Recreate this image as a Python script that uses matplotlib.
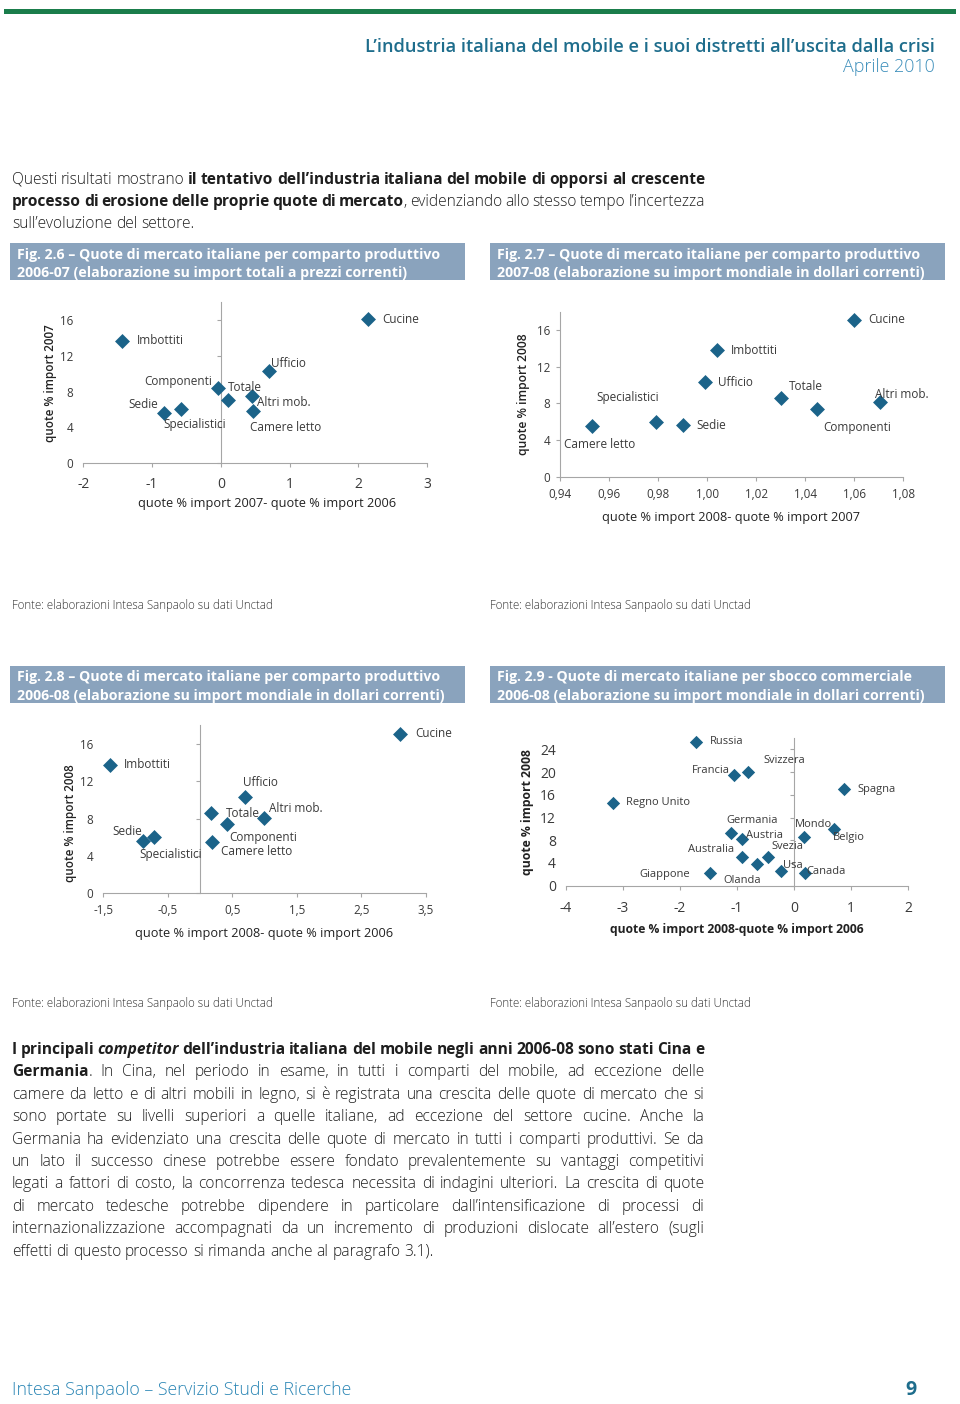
import matplotlib.pyplot as plt
from matplotlib import font_manager
from matplotlib.patches import Rectangle


def ha_grassetto(fam):
    for f in font_manager.fontManager.ttflist:
        if f.name != fam:
            continue
        w = f.weight
        if isinstance(w, str):
            w = font_manager.weight_dict.get(w, 400)
        if w >= 600:
            return True
    return False


FAM = next((f for f in ['Open Sans', 'Lato', 'Noto Sans', 'Roboto', 'DejaVu Sans']
            if ha_grassetto(f)), 'DejaVu Sans')
plt.rcParams['font.family'] = [FAM, 'DejaVu Sans']

W, H = 960, 1404
BLU = '#1b6389'
GRIGIO = '#a6a6a6'
TESTO = '#3a3a3a'

# --- dati Fig. 2.6 / 2.7 / 2.8 (comparti) ---
comparti = ['Cucine', 'Imbottiti', 'Ufficio', 'Componenti', 'Totale',
            'Altri mob.', 'Camere letto', 'Sedie', 'Specialistici']
diff_07_06 = [2.14, -1.43, 0.70, -0.04, 0.11, 0.46, 0.47, -0.82, -0.58]
quota_2007 = [16.1, 13.7, 10.3, 8.4, 7.1, 7.55, 5.85, 5.65, 6.05]
diff_08_07 = [1.060, 1.004, 0.999, 1.045, 1.030, 1.0705, 0.953, 0.990, 0.979]
quota_2008 = [17.1, 13.8, 10.3, 7.4, 8.6, 8.1, 5.5, 5.6, 6.0]
diff_08_06 = [3.10, -1.40, 0.70, 0.41, 0.17, 0.99, 0.19, -0.89, -0.71]

# --- dati Fig. 2.9 (paesi) ---
paesi = ['Russia', 'Francia', 'Svizzera', 'Spagna', 'Regno Unito', 'Germania',
         'Mondo', 'Belgio', 'Austria', 'Australia', 'Svezia', 'Olanda',
         'Usa', 'Canada', 'Giappone']
diff_paesi = [-1.72, -1.05, -0.81, 0.87, -3.18, -1.10, 0.17, 0.70, -0.92,
              -0.92, -0.45, -0.655, -0.23, 0.19, -1.47]
quota_paesi = [25.35, 19.4, 20.1, 17.0, 14.6, 9.2, 8.63, 9.98, 8.16,
               5.1, 5.1, 3.76, 2.64, 2.29, 2.29]

# tick
xt_26 = [-2, -1, 0, 1, 2, 3]
xtl_26 = ['-2', '-1', '0', '1', '2', '3']
xt_27 = [0.94, 0.96, 0.98, 1.00, 1.02, 1.04, 1.06, 1.08]
xtl_27 = ['0,94', '0,96', '0,98', '1,00', '1,02', '1,04', '1,06', '1,08']
xt_28 = [-1.5, -0.5, 0.5, 1.5, 2.5, 3.5]
xtl_28 = ['-1,5', '-0,5', '0,5', '1,5', '2,5', '3,5']
xt_29 = [-4, -3, -2, -1, 0, 1, 2]
xtl_29 = ['-4', '-3', '-2', '-1', '0', '1', '2']
yt = [0, 4, 8, 12, 16]
yt_29 = [0, 4, 8, 12, 16, 20, 24]

# posizione etichette (pixel: dx, dy verso l'alto, allineamento)
off_26 = [(14, 0, 'left'), (14, 0, 'left'), (2, 8, 'left'), (-6, 7, 'right'),
          (0, 12, 'left'), (5, -7, 'left'), (-3, -17, 'left'), (-6, 8, 'right'),
          (-18, -15, 'left')]
off_27 = [(14, 0, 'left'), (14, 0, 'left'), (13, 0, 'left'), (6, -19, 'left'),
          (8, 11, 'left'), (-5, 8, 'left'), (-28, -18, 'left'), (14, 0, 'left'),
          (3, 24, 'right')]
off_28 = [(15, 0, 'left'), (14, 0, 'left'), (-2, 15, 'left'), (3, -13, 'left'),
          (15, 0, 'left'), (5, 9, 'left'), (9, -10, 'left'), (-1, 10, 'right'),
          (-15, -17, 'left')]
off_29 = [(14, 0, 'left'), (-4, 5, 'right'), (16, 11, 'left'), (14, 0, 'left'),
          (13, 0, 'left'), (-5, 13, 'left'), (-9, 12, 'left'), (-1, -8, 'left'),
          (4, 4, 'left'), (-7, 7, 'right'), (3, 10, 'left'), (-33, -16, 'left'),
          (2, 5, 'left'), (1, 1, 'left'), (-20, -2, 'right')]

fig = plt.figure(figsize=(W / 100, H / 100), dpi=100)
fig.patch.set_facecolor('white')
ov = fig.add_axes([0, 0, 1, 1])
ov.set_xlim(0, W)
ov.set_ylim(H, 0)
ov.axis('off')
renderer = fig.canvas.get_renderer()


def larghezza(t):
    return t.get_window_extent(renderer).width


def testo_fit(x, y, s, w, **kw):
    rot = kw.pop('rotation', 0)
    t = ov.text(x, y, s, fontsize=10, **kw)
    t.set_fontsize(10 * w / larghezza(t))
    t.set_rotation(rot)
    return t


STILI = {'n': dict(weight='light'),
         'b': dict(weight='bold'),
         'bi': dict(weight='bold', style='italic')}


def misura(s, size, st):
    t = ov.text(0, 0, s, fontsize=size, **STILI[st])
    w = larghezza(t)
    t.remove()
    return w


def parole(segs):
    out = []
    nuova = True
    for txt, st in segs:
        for i, p in enumerate(txt.split(' ')):
            if i > 0:
                nuova = True
            if p == '':
                continue
            if nuova or not out:
                out.append([(p, st)])
            else:
                out[-1].append((p, st))
            nuova = False
    return out


def riga(segs, y, size, giustifica, x0=12, x1=705):
    ws = parole(segs)
    larg = [[misura(p, size, st) for p, st in w] for w in ws]
    tot = sum(sum(l) for l in larg)
    spazio = misura('n n', size, 'n') - misura('nn', size, 'n')
    gap = (x1 - x0 - tot) / (len(ws) - 1) if giustifica and len(ws) > 1 else spazio
    x = x0
    for w, l in zip(ws, larg):
        for (p, st), pl in zip(w, l):
            ov.text(x, y, p, fontsize=size, va='baseline', ha='left',
                    color='#1e1e1e', **STILI[st])
            x += pl
        x += gap


def pannello(box, xs, ys, nomi, offs, xlim, ylim, xt, xtl, ytk, vline,
             s, fs_lab, fs_x, fs_y, pad_x):
    l, r, b, t = box
    ax = fig.add_axes([l / W, 1 - b / H, (r - l) / W, (b - t) / H])
    ax.patch.set_visible(False)
    ax.set_xlim(*xlim)
    ax.set_ylim(*ylim)
    ax.scatter(xs, ys, marker='D', s=s, color=BLU, linewidths=0, zorder=3,
               clip_on=False)
    for x, y, n, (dx, dy, ha) in zip(xs, ys, nomi, offs):
        ax.annotate(n, (x, y), xytext=(dx, dy), textcoords='offset pixels',
                    ha=ha, va='center', fontsize=fs_lab, color=TESTO,
                    annotation_clip=False, zorder=4)
    for sp in ('top', 'right'):
        ax.spines[sp].set_visible(False)
    for sp in ('left', 'bottom'):
        ax.spines[sp].set_color(GRIGIO)
        ax.spines[sp].set_linewidth(0.8)
    ax.set_xticks(xt, xtl)
    ax.tick_params(axis='x', direction='out', length=3, width=0.8, color=GRIGIO,
                   labelsize=fs_x, labelcolor=TESTO, pad=pad_x)
    ax.set_yticks(ytk)
    if vline is None:
        ax.tick_params(axis='y', direction='out', length=3, width=0.8,
                       color=GRIGIO, labelsize=fs_y, labelcolor=TESTO, pad=4)
    else:
        ax.spines['left'].set_position(('data', vline))
        ax.tick_params(axis='y', direction='out', length=3, width=0.8,
                       color=GRIGIO, labelleft=False)
        sec = ax.secondary_yaxis('left')
        sec.set_yticks(ytk)
        sec.spines['left'].set_visible(False)
        sec.tick_params(length=0, labelsize=fs_y, labelcolor=TESTO, pad=7)
    return ax


# --- intestazione ---
ov.add_patch(Rectangle((4, 9), 952, 4.5, color='#1a7d4b', lw=0))
testo_fit(935, 51.5, 'L’industria italiana del mobile e i suoi distretti all’uscita dalla crisi',
          570, ha='right', va='baseline', color='#1e6d8c', weight='semibold')
testo_fit(935, 72.5, 'Aprile 2010', 92, ha='right', va='baseline',
          color='#3a8dba', weight='light')

# --- testo ---
ultima = 'effetti di questo processo si rimanda anche al paragrafo 3.1).'
par1 = [
    [('Questi risultati mostrano ', 'n'),
     ('il tentativo dell’industria italiana del mobile di opporsi al crescente', 'b')],
    [('processo di erosione delle proprie quote di mercato', 'b'),
     (', evidenziando allo stesso tempo l’incertezza', 'n')],
    [('sull’evoluzione del settore.', 'n')],
]
par2 = [
    [('I principali ', 'b'), ('competitor', 'bi'),
     (' dell’industria italiana del mobile negli anni 2006-08 sono stati Cina e', 'b')],
    [('Germania', 'b'),
     ('. In Cina, nel periodo in esame, in tutti i comparti del mobile, ad eccezione delle', 'n')],
    [('camere da letto e di altri mobili in legno, si è registrata una crescita delle quote di mercato che si', 'n')],
    [('sono portate su livelli superiori a quelle italiane, ad eccezione del settore cucine. Anche la', 'n')],
    [('Germania ha evidenziato una crescita delle quote di mercato in tutti i comparti produttivi. Se da', 'n')],
    [('un lato il successo cinese potrebbe essere fondato prevalentemente su vantaggi competitivi', 'n')],
    [('legati a fattori di costo, la concorrenza tedesca necessita di indagini ulteriori. La crescita di quote', 'n')],
    [('di mercato tedesche potrebbe dipendere in particolare dall’intensificazione di processi di', 'n')],
    [('internazionalizzazione accompagnati da un incremento di produzioni dislocate all’estero (sugli', 'n')],
    [(ultima, 'n')],
]
size = 10 * 436 / misura(ultima, 10, 'n')
for segs in par1[:2] + par2[:-1]:
    ws = parole(segs)
    nat = sum(misura(p, size, st) for w in ws for p, st in w)
    nat += (len(ws) - 1) * 0.7 * (misura('n n', size, 'n') - misura('nn', size, 'n'))
    if nat > 693:
        size *= 693 / nat

for i, segs in enumerate(par1):
    riga(segs, 183.5 + i * 22.4, size, i < len(par1) - 1)
for i, segs in enumerate(par2):
    riga(segs, 1054 + i * 22.4, size, i < len(par2) - 1, x1=704)

# --- riquadri titolo ---
BOX = '#8aa3bd'
for bx, by in [(10, 243), (490, 243), (10, 666), (490, 666)]:
    ov.add_patch(Rectangle((bx, by), 455, 37, color=BOX, lw=0))
t = testo_fit(497, 277, '2007-08 (elaborazione su import mondiale in dollari correnti)', 428,
              color='white', weight='bold', va='baseline')
fs_box = t.get_fontsize()
titoli = [
    (17, 243, 'Fig. 2.6 – Quote di mercato italiane per comparto produttivo',
     '2006-07 (elaborazione su import totali a prezzi correnti)'),
    (497, 243, 'Fig. 2.7 – Quote di mercato italiane per comparto produttivo', None),
    (17, 666, 'Fig. 2.8 – Quote di mercato italiane per comparto produttivo',
     '2006-08 (elaborazione su import mondiale in dollari correnti)'),
    (497, 666, 'Fig. 2.9 - Quote di mercato italiane per sbocco commerciale',
     '2006-08 (elaborazione su import mondiale in dollari correnti)'),
]
for tx, ty, r1, r2 in titoli:
    ov.text(tx, ty + 15.5, r1, fontsize=fs_box, color='white', weight='bold', va='baseline')
    if r2:
        ov.text(tx, ty + 34, r2, fontsize=fs_box, color='white', weight='bold', va='baseline')

# --- fonti ---
for fx_, fy_ in [(12, 605), (490, 605), (12, 1004), (490, 1004)]:
    testo_fit(fx_, fy_, 'Fonte: elaborazioni Intesa Sanpaolo su dati Unctad', 262,
              va='center', color='#333333', weight='light')

# --- grafici ---
pannello((83.3, 427, 463.3, 302), diff_07_06, quota_2007, comparti, off_26,
         (-2, 3), (0, 18), xt_26, xtl_26, yt, 0, 58, 8.5, 10, 8.4, 7)
pannello((560, 903.3, 476.7, 311.7), diff_08_07, quota_2008, comparti, off_27,
         (0.94, 1.08), (0, 18), xt_27, xtl_27, yt, None, 58, 8.5, 8.4, 8.4, 5)
pannello((103.3, 426, 893.3, 725.4), diff_08_06, quota_2008, comparti, off_28,
         (-1.5, 3.5), (0, 18), xt_28, xtl_28, yt, 0, 58, 8.5, 8.4, 8.4, 5)
pannello((565.7, 908.3, 885.7, 738), diff_paesi, quota_paesi, paesi, off_29,
         (-4, 2), (0, 26), xt_29, xtl_29, yt_29, 0, 46, 8, 10, 10, 8)

# titoli assi
assi = [
    (267, 504, 'quote % import 2007- quote % import 2006', 258, 'normal', 0),
    (50.7, 383, 'quote % import 2007', 117, 'semibold', 90),
    (731, 518, 'quote % import 2008- quote % import 2007', 257, 'normal', 0),
    (524, 394, 'quote % import 2008', 122, 'semibold', 90),
    (264, 933, 'quote % import 2008- quote % import 2006', 257, 'normal', 0),
    (70.7, 823, 'quote % import 2008', 117, 'semibold', 90),
    (737, 929, 'quote % import 2008-quote % import 2006', 255, 'bold', 0),
    (528, 812, 'quote % import 2008', 127, 'bold', 90),
]
for ax_x, ax_y, s, w, peso, rot in assi:
    testo_fit(ax_x, ax_y, s, w, ha='center', va='center', color='#222222',
              weight=peso, rotation=rot)

# --- piè di pagina ---
testo_fit(12, 1395, 'Intesa Sanpaolo – Servizio Studi e Ricerche', 337,
          va='baseline', color='#2b86b5', weight='light')
ov.text(917, 1395, '9', fontsize=14, ha='right', va='baseline', color='#1e6d8c',
        weight='bold')

fig.savefig('out.png', dpi=100)
